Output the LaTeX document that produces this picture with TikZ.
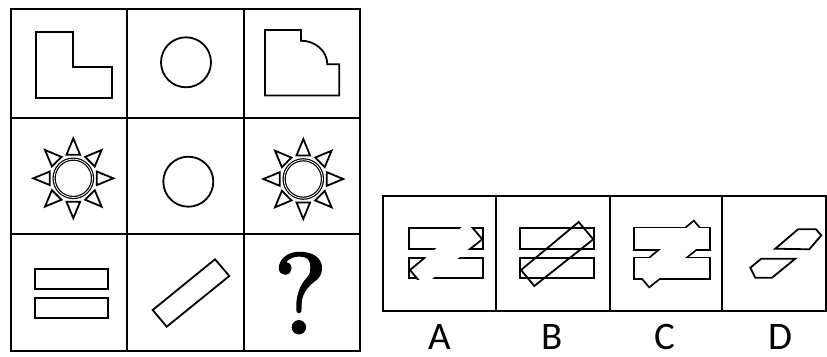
\documentclass[tikz,border=0pt]{standalone}
\usepackage{fontspec}
\newfontfamily\carlito{Carlito}
\newfontfamily\qfont{lmroman10-regular.otf}[FakeBold=2]
\begin{document}
\begin{tikzpicture}[x=1pt,y=-1pt,line join=miter,
  gridline/.style={line width=2pt},
  fig/.style={line width=1.8pt},
  optline/.style={line width=1.8pt},
  lbl/.style={font=\carlito\fontsize{39}{39}\selectfont,inner sep=0pt},
  sun/.pic={
    \draw[line width=1.2pt,double distance=0.8pt] (0,0) circle (19.2);
    \foreach \a in {0,45,...,315}
      \draw[fig,rotate=\a] (40,0) -- (23.5,6.8) -- (23.5,-6.8) -- cycle;
  }]
\useasboundingbox (0,0) rectangle (827,356);
\fill[white] (0,0) rectangle (827,356);
% ---- grid
\draw[gridline] (11,9.3) rectangle (360,350.7);
\draw[gridline] (127.3,9.3) -- (127.3,350.7);
\draw[gridline] (244,9.3) -- (244,350.7);
\draw[gridline] (11,118.3) -- (360,118.3);
\draw[gridline] (11,234.3) -- (360,234.3);
% ---- row 1
\draw[fig] (36,32.3) -- (72.7,32.3) -- (72.7,66.7) -- (112,66.7) -- (112,97.7) -- (36,97.7) -- cycle;
\draw[fig] (186,62.3) circle (25);
\draw[fig] (265,30) -- (301,30) -- (301,40.7)
  arc[start angle=270,end angle=360,x radius=26.3,y radius=23.6]
  -- (339.3,64.3) -- (339.3,95.5) -- (265,95.5) -- cycle;
% ---- row 2
\pic at (73.3,178.3) {sun};
\draw[fig] (188.3,181.7) circle (25);
\pic at (303.3,179) {sun};
% ---- row 3
\draw[fig] (35,269.3) rectangle (108.3,288.7);
\draw[fig] (35,298.3) rectangle (108.3,318.3);
\draw[fig] (152.7,310) -- (166.7,326.7) -- (229.3,276) -- (215,259.3) -- cycle;
\node[inner sep=0pt,anchor=base,font=\qfont\fontsize{114}{114}\selectfont] (qmark) at (300.5,333.3) {?};
% ---- options box
\draw[optline] (383.3,196.3) rectangle (826,311.3);
\draw[optline] (496,196.3) -- (496,311.3);
\draw[optline] (610,196.3) -- (610,311.3);
\draw[optline] (722.3,196.3) -- (722.3,311.3);
% option A : rectangles minus the bar
\begin{scope}[shift={(385,0)}]
  \begin{scope}[even odd rule]
    \clip (-400,0) rectangle (500,356)
      (82.7,222) -- (97.3,239.3) -- (38.3,286) -- (25,270) -- cycle;
    \draw[fig] (24,228.3) rectangle (97.7,248.7);
    \draw[fig] (24,258.3) rectangle (97.7,278.3);
  \end{scope}
  \begin{scope}
    \clip (78,227.4) rectangle (98.6,249.6);
    \draw[fig] (82.7,222) -- (97.3,239.3) -- (38.3,286) -- (25,270) -- cycle;
  \end{scope}
  \begin{scope}
    \clip (23.1,257.4) rectangle (41,279.2);
    \draw[fig] (82.7,222) -- (97.3,239.3) -- (38.3,286) -- (25,270) -- cycle;
  \end{scope}
\end{scope}
% option B : overlay
\begin{scope}[shift={(496,0)}]
  \draw[fig] (24,228.3) rectangle (97.7,248.7);
  \draw[fig] (24,258.3) rectangle (97.7,278.3);
  \draw[fig] (82.7,222) -- (97.3,239.3) -- (38.3,286) -- (25,270) -- cycle;
\end{scope}
% option C : union outline
\begin{scope}[shift={(611,0)}]
  \draw[line width=3.6pt] (24,228.3) rectangle (97.7,248.7);
  \draw[line width=3.6pt] (24,258.3) rectangle (97.7,278.3);
  \draw[line width=3.6pt] (82.7,222) -- (97.3,239.3) -- (38.3,286) -- (25,270) -- cycle;
  \fill[white] (24,228.3) rectangle (97.7,248.7);
  \fill[white] (24,258.3) rectangle (97.7,278.3);
  \fill[white] (82.7,222) -- (97.3,239.3) -- (38.3,286) -- (25,270) -- cycle;
\end{scope}
% option D
\draw[fig] (775.3,248.7) -- (798,229.3) -- (816,229.3) -- (821.3,235.3) -- (809.3,249.3) -- cycle;
\draw[fig] (750.3,267.7) -- (761.3,258.7) -- (795.3,258.7) -- (772,277.7) -- (755.3,277.7) -- cycle;
% ---- labels
\node[lbl] (la) at (440,337) {A};
\node[lbl] (lb) at (552,337) {B};
\node[lbl] (lc) at (665,337) {C};
\node[lbl] (ld) at (780,337) {D};
\end{tikzpicture}
\end{document}
